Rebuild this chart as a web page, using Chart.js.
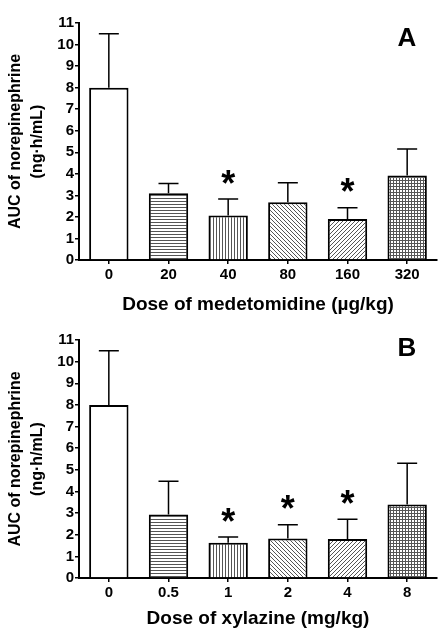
<!DOCTYPE html>
<html lang="en">
<head>
<meta charset="UTF-8">
<title>AUC of norepinephrine</title>
<script src="https://cdn.jsdelivr.net/npm/chart.js@4.4.0/dist/chart.umd.min.js"></script>
<style>
    body{ margin:0; background:#fff; }
    .panel{ width:446px; height:318px; }
</style>
</head>
<body>
<div class="panel"><canvas id="chartA" width="446" height="318"></canvas></div>
<div class="panel"><canvas id="chartB" width="446" height="318"></canvas></div>
<script>
// panel A - medetomidine
const dosesA = ['0', '20', '40', '80', '160', '320'];
const meanA = [8.0, 3.1, 2.07, 2.68, 1.9, 3.92];
const errA = [2.5, 0.45, 0.76, 0.91, 0.52, 1.23];
const sigA = [false, false, true, false, true, false];

// panel B - xylazine
const dosesB = ['0', '0.5', '1', '2', '4', '8'];
const meanB = [8.0, 2.94, 1.63, 1.83, 1.8, 3.4];
const errB = [2.5, 1.53, 0.26, 0.63, 0.91, 1.9];
const sigB = [false, false, true, true, true, false];

const yMax = 11;
const FONT = "'Liberation Sans', Arial, sans-serif";

// hatch fills, one per dose group
function makePattern(kind){
    const s = (kind === 'back' || kind === 'fwd') ? 4 : 3;
    const c = document.createElement('canvas');
    c.width = s; c.height = s;
    const g = c.getContext('2d');
    g.fillStyle = '#fff';
    g.fillRect(0, 0, s, s);
    g.fillStyle = '#555';
    if(kind === 'horiz' || kind === 'grid') g.fillRect(0, 0, s, 1);
    if(kind === 'vert' || kind === 'grid') g.fillRect(0, 0, 1, s);
    if(kind === 'back') for(let i = 0; i < s; i++) g.fillRect(i, i, 1, 1);
    if(kind === 'fwd') for(let i = 0; i < s; i++) g.fillRect(s - 1 - i, i, 1, 1);
    return document.createElement('canvas').getContext('2d').createPattern(c, 'repeat');
}
const fills = ['#fff', makePattern('horiz'), makePattern('vert'), makePattern('back'), makePattern('fwd'), makePattern('grid')];

const extras = {
    id: 'extras',
    afterDatasetsDraw(chart, args, opts){
        const ctx = chart.ctx;
        const y = chart.scales.y;
        const meta = chart.getDatasetMeta(0);
        ctx.save();
        ctx.strokeStyle = '#000';
        ctx.lineWidth = 1.5;
        meta.data.forEach((bar, i) => {
            const top = y.getPixelForValue(opts.means[i] + opts.errs[i]);
            ctx.beginPath();
            ctx.moveTo(bar.x, bar.y);
            ctx.lineTo(bar.x, top);
            ctx.moveTo(bar.x - 10, top);
            ctx.lineTo(bar.x + 10, top);
            ctx.stroke();
            if(opts.sig[i]){
                ctx.fillStyle = '#000';
                ctx.font = 'bold 36px ' + FONT;
                ctx.textAlign = 'center';
                ctx.textBaseline = 'alphabetic';
                ctx.fillText('*', bar.x, top - 3.5);
            }
        });
        ctx.fillStyle = '#000';
        ctx.font = 'bold 26px ' + FONT;
        ctx.textAlign = 'center';
        ctx.textBaseline = 'middle';
        ctx.fillText(opts.letter, 407, opts.letterY);
        ctx.restore();
    }
};

function makeChart(id, labels, means, errs, sig, letter, letterY, xTitle, padTop, titlePad){
    return new Chart(document.getElementById(id), {
        type: 'bar',
        data: {
            labels: labels,
            datasets: [{
                data: means,
                backgroundColor: fills,
                borderColor: '#000',
                borderWidth: 2,
                borderSkipped: 'bottom',
                categoryPercentage: 1,
                barPercentage: 0.66
            }]
        },
        options: {
            responsive: false,
            animation: false,
            devicePixelRatio: 1,
            layout: { padding: { top: padTop, right: 9, left: 0, bottom: 0 } },
            plugins: {
                legend: { display: false },
                tooltip: { enabled: false },
                extras: { means: means, errs: errs, sig: sig, letter: letter, letterY: letterY }
            },
            scales: {
                x: {
                    grid: { display: true, drawOnChartArea: false, offset: false, tickLength: 4, color: '#000', lineWidth: 1.5 },
                    border: { color: '#000', width: 2 },
                    ticks: { color: '#000', padding: 2, font: { family: FONT, size: 15, weight: 'bold' } },
                    title: {
                        display: true, text: xTitle, color: '#000',
                        font: { family: FONT, size: 19, weight: 'bold' },
                        padding: { top: 0, bottom: titlePad }
                    },
                    afterFit(scale){ scale.height = 58; }
                },
                y: {
                    min: 0, max: yMax,
                    grid: { display: true, drawOnChartArea: false, tickLength: 4, color: '#000', lineWidth: 1.5 },
                    border: { color: '#000', width: 2 },
                    ticks: { stepSize: 1, color: '#000', padding: 1, font: { family: FONT, size: 15, weight: 'bold' } },
                    title: {
                        display: true, text: ['AUC of norepinephrine', '(ng\u00b7h/mL)'], color: '#000',
                        font: { family: FONT, size: 16, weight: 'bold', lineHeight: 1.35 },
                        padding: { top: 5, bottom: 0 }
                    },
                    afterFit(scale){ scale.width = 79; }
                }
            }
        },
        plugins: [extras]
    });
}

makeChart('chartA', dosesA, meanA, errA, sigA, 'A', 39, 'Dose of medetomidine (\u00b5g/kg)', 23, 2);
makeChart('chartB', dosesB, meanB, errB, sigB, 'B', 31, 'Dose of xylazine (mg/kg)', 22, 6);
</script>
</body>
</html>
